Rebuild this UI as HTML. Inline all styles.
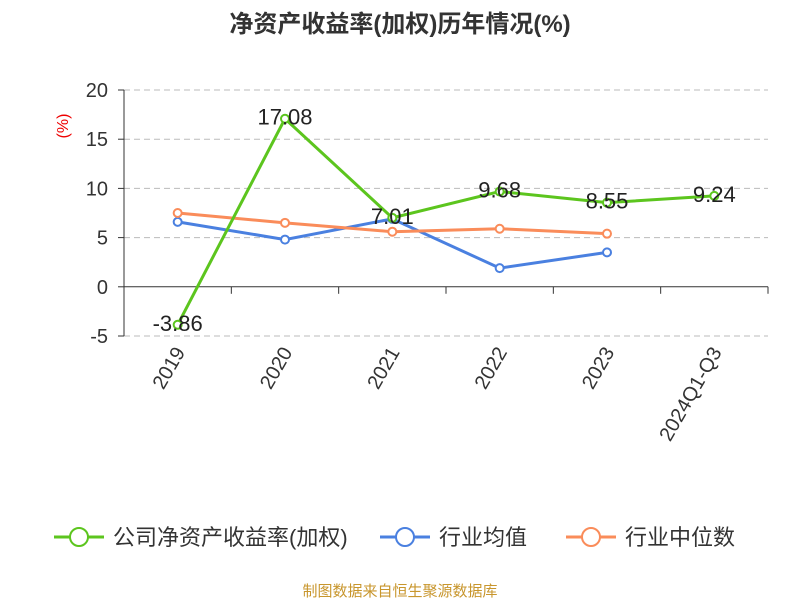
<!DOCTYPE html>
<html><head><meta charset="utf-8"><style>
body{margin:0;background:#fff;font-family:"Liberation Sans","Noto Sans CJK SC",sans-serif;}
</style></head><body>
<svg id="c" width="800" height="600" xmlns="http://www.w3.org/2000/svg" font-family="Liberation Sans, Noto Sans CJK SC, sans-serif">
<text x="400" y="32" text-anchor="middle" font-size="24" font-weight="bold" fill="#333">净资产收益率(加权)历年情况(%)</text>
<text transform="translate(68,126) rotate(-90)" text-anchor="middle" font-size="16" fill="#e00">(%)</text>
<g id="grid"></g><g id="axes"></g><g id="series"></g>
<g>
 <g><line x1="54" y1="537" x2="104" y2="537" stroke="#5cc51e" stroke-width="3"/><circle cx="79" cy="537" r="9" fill="#fff" stroke="#5cc51e" stroke-width="2"/><text x="113" y="545" font-size="22" fill="#333">公司净资产收益率(加权)</text></g>
 <g><line x1="380" y1="537" x2="430" y2="537" stroke="#4a80e0" stroke-width="3"/><circle cx="405" cy="537" r="9" fill="#fff" stroke="#4a80e0" stroke-width="2"/><text x="439" y="545" font-size="22" fill="#333">行业均值</text></g>
 <g><line x1="566" y1="537" x2="616" y2="537" stroke="#fa8c5a" stroke-width="3"/><circle cx="591" cy="537" r="9" fill="#fff" stroke="#fa8c5a" stroke-width="2"/><text x="625" y="545" font-size="22" fill="#333">行业中位数</text></g>
</g>
<text x="400" y="596" text-anchor="middle" font-size="15" fill="#c8962d">制图数据来自恒生聚源数据库</text>
</svg>
<script>
const categories=["2019","2020","2021","2022","2023","2024Q1-Q3"];
const companyValues=[-3.86,17.08,7.01,9.68,8.55,9.24];
const avgValues=[6.6,4.8,6.9,1.9,3.5];
const medianValues=[7.5,6.5,5.6,5.9,5.4];
const yTicks=[-5,0,5,10,15,20];
const NS="http://www.w3.org/2000/svg";
const L=124,R=768,yMin=-5,yMax=20,plotTop=90,plotBot=336;
const bw=(R-L)/categories.length;
const xs=i=>L+bw*(i+0.5);
const ys=v=>plotBot-(v-yMin)/(yMax-yMin)*(plotBot-plotTop);
function mk(p,t,a){const e=document.createElementNS(NS,t);for(const k in a)e.setAttribute(k,a[k]);p.appendChild(e);return e;}
const grid=document.getElementById('grid'),axes=document.getElementById('axes'),ser=document.getElementById('series');
yTicks.forEach(v=>{
 if(v!==0){const g=mk(grid,'line',{x1:L,x2:R,y1:ys(v),y2:ys(v),stroke:'#bbb','stroke-dasharray':'6,4'});
 
 }
 const tk=mk(axes,'line',{x1:L-6,x2:L,y1:ys(v),y2:ys(v),stroke:'#333'});
 
 
 const t=mk(axes,'text',{x:L-16,y:ys(v)+7,'text-anchor':'end','font-size':20,fill:'#333'});t.textContent=v;
 
 
});
const ya=mk(axes,'line',{x1:L,x2:L,y1:plotTop,y2:plotBot,stroke:'#333'});


const xa=mk(axes,'line',{x1:L,x2:R,y1:ys(0),y2:ys(0),stroke:'#333'});


for(let i=0;i<=categories.length;i++){const tk=mk(axes,'line',{x1:L+bw*i,x2:L+bw*i,y1:ys(0),y2:ys(0)+7,stroke:'#333'});
 
 }
categories.forEach((c,i)=>{const x=xs(i)+8,y=352;
 const t=mk(axes,'text',{x:x,y:y,'text-anchor':'end','font-size':20,fill:'#333',transform:`rotate(-60 ${x} ${y})`});t.textContent=c;
 
 });
function series(vals,color,name,labels){
 const pts=vals.map((v,i)=>xs(i)+','+ys(v)).join(' ');
 const pl=mk(ser,'polyline',{points:pts,fill:'none',stroke:color,'stroke-width':3});
 
 
 vals.forEach((v,i)=>{const c=mk(ser,'circle',{cx:xs(i),cy:ys(v),r:4,fill:'#fff',stroke:color,'stroke-width':2});
  
  });
 if(labels)vals.forEach((v,i)=>{const t=mk(ser,'text',{x:xs(i),y:ys(v)+6,'text-anchor':'middle','font-size':22,fill:'#222'});t.textContent=v.toFixed(2);
  
  });
}
series(avgValues,'#4a80e0','industry-avg',false);
series(medianValues,'#fa8c5a','industry-median',false);
series(companyValues,'#5cc51e','company',true);
</script>
</body></html>
